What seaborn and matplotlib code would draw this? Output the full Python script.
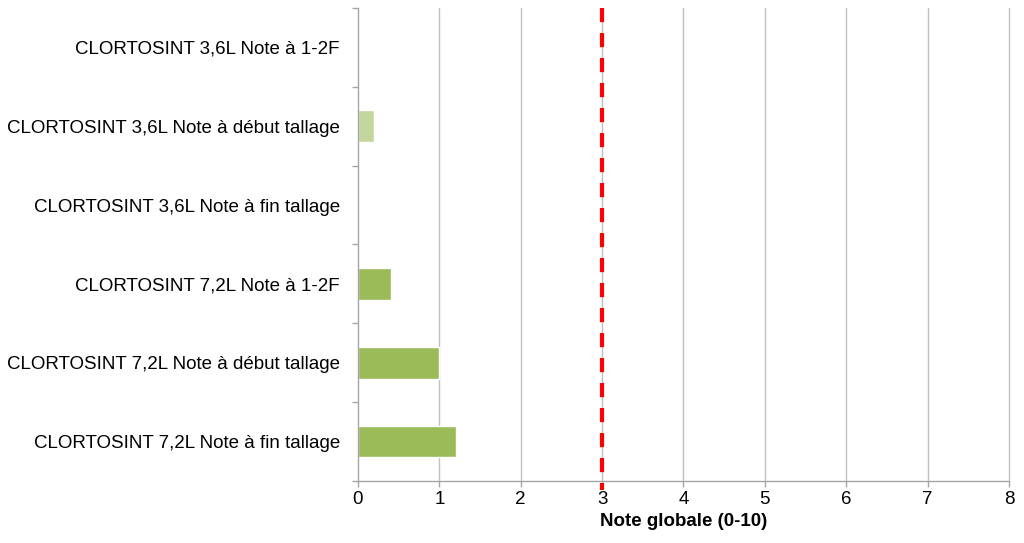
import matplotlib
matplotlib.use("Agg")
import matplotlib.pyplot as plt
import seaborn as sns
import pandas as pd
import numpy as np

categories = [
    "CLORTOSINT 3,6L Note à 1-2F",
    "CLORTOSINT 3,6L Note à début tallage",
    "CLORTOSINT 3,6L Note à fin tallage",
    "CLORTOSINT 7,2L Note à 1-2F",
    "CLORTOSINT 7,2L Note à début tallage",
    "CLORTOSINT 7,2L Note à fin tallage",
]
values = [0.0, 0.2, 0.0, 0.4, 1.0, 1.2]
colors = ["#c3d69b", "#c3d69b", "#c3d69b", "#9bbb59", "#9bbb59", "#9bbb59"]
threshold = 3
xticks = [0, 1, 2, 3, 4, 5, 6, 7, 8]
xlabel = "Note globale (0-10)"

sns.set_style("white")
plt.rcParams['font.family'] = ['Liberation Sans', 'DejaVu Sans']
FS = 13.5

df = pd.DataFrame({"cat": categories, "val": values})
fig = plt.figure(figsize=(10.24, 5.43), dpi=100)
ax = fig.add_axes([0.3496, 0.1142, 0.6357, 0.8711])

for x in xticks[1:]:
    ax.axvline(x, color="#bfbfbf", lw=1, zorder=0, clip_on=False)

sns.barplot(data=df, y="cat", x="val", hue="cat", palette=colors, legend=False,
            orient="h", width=0.4, ax=ax, saturation=1, zorder=2)

ax.plot([threshold, threshold], [-0.5, 5.62], color="#ff0000", lw=3,
        ls=(0, (3.4, 2.6)), zorder=3, clip_on=False, solid_capstyle="butt",
        dash_capstyle="butt")

ax.set_xlim(0, 8)
ax.set_ylim(5.5, -0.5)
ax.set_xticks(xticks)
ax.set_xticklabels([str(t) for t in xticks], fontsize=FS, color="#000000")
ax.set_yticks(range(len(categories)))
ax.set_yticklabels(categories, fontsize=FS, color="#000000")
ax.set_yticks(np.arange(-0.5, len(categories) + 0.5, 1), minor=True)
ax.tick_params(axis="y", which="major", length=0, pad=13)
ax.tick_params(axis="y", which="minor", length=4, color="#a6a6a6", width=1, direction="out", left=True)
ax.tick_params(axis="x", which="major", length=4, color="#a6a6a6", width=1, direction="out", bottom=True, pad=3)
ax.set_ylabel("")
ax.set_xlabel(xlabel, fontsize=FS, fontweight="bold", labelpad=4, color="#000000")
for s in ["top", "right"]:
    ax.spines[s].set_visible(False)
for s in ["left", "bottom"]:
    ax.spines[s].set_color("#a6a6a6")
    ax.spines[s].set_linewidth(1)

fig.savefig("out.png", dpi=100)
